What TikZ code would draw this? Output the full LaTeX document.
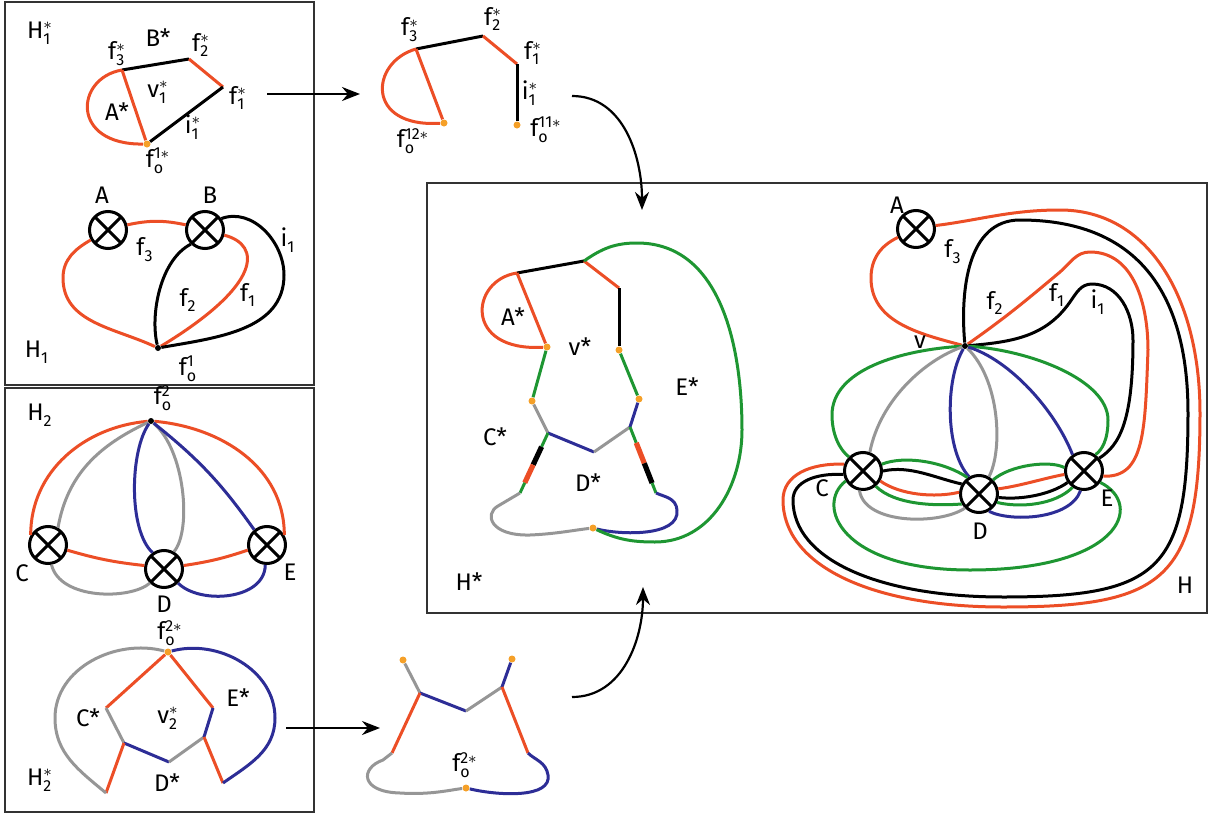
\documentclass[tikz,border=0pt]{standalone}
\usepackage{fontspec}
\setmainfont{Fira Sans}
\usetikzlibrary{arrows.meta, calc}
\definecolor{edgered}{RGB}{236,78,38}
\definecolor{edgeblue}{RGB}{45,45,150}
\definecolor{edgegreen}{RGB}{30,150,50}
\definecolor{edgegray}{RGB}{150,150,150}
\definecolor{dotorange}{RGB}{245,160,40}
\newcommand{\lb}[3]{$\mathrm{#1}^{\mathrm{#3}}_{\mathrm{#2}}$}

\begin{document}
\begin{tikzpicture}[x=0.5pt, y=-0.5pt,
    frame/.style={draw=black!80, line width=0.7pt},
    edge/.style={line width=1.5pt, line join=round},
    redline/.style={edge, draw=edgered},
    blueline/.style={edge, draw=edgeblue},
    greenline/.style={edge, draw=edgegreen},
    grayline/.style={edge, draw=edgegray},
    blackline/.style={edge, draw=black},
    thickseg/.style={line width=2.6pt},
    xnode/.style={circle, draw, line width=1.5pt, minimum size=18.5pt, inner sep=0pt, fill=white,
        path picture={\draw[line width=1.5pt] (path picture bounding box.north west) -- (path picture bounding box.south east)
            (path picture bounding box.north east) -- (path picture bounding box.south west);}},
    vdot/.style={circle, fill=black, inner sep=0pt, minimum size=3pt},
    odot/.style={circle, fill=dotorange, inner sep=0pt, minimum size=3.5pt},
    lbl/.style={inner sep=0pt, font=\fontsize{12}{14}\selectfont},
    arr/.style={-{Stealth[length=9pt, width=7pt]}, line width=1.1pt}
]
\useasboundingbox (0,0) rectangle (1212,814);

% frames
\draw[frame] (5,2) rectangle (314,385);
\draw[frame] (5,388) rectangle (314,812);
\draw[frame] (427,183) rectangle (1207,613);

% H1*
\coordinate (a3) at (122,70);
\coordinate (a2) at (189,59);
\coordinate (a1) at (223,87);
\node[odot] (a0) at (147,144) {};
\draw[blackline] (a3) -- (a2);
\draw[redline] (a2) -- (a1);
\draw[blackline] (a1) -- (a0);
\draw[redline] (a3) -- (a0);
\draw[redline] (a3) .. controls (75,78) and (70,145) .. (a0);
\node[lbl] (h1s) at (40,33) {\lb{H}{1}{*}};
\node[lbl] (bs1) at (158,38) {B*};
\node[lbl] (f3s1) at (117,54) {\lb{f}{3}{*}};
\node[lbl] (f2s1) at (201,45) {\lb{f}{2}{*}};
\node[lbl] (f1s1) at (238,98) {\lb{f}{1}{*}};
\node[lbl] (v1s) at (158,92) {\lb{v}{1}{*}};
\node[lbl] (as1) at (117,112) {A*};
\node[lbl] (i1s1) at (193,127) {\lb{i}{1}{*}};
\node[lbl] (fo1s) at (158,161) {\lb{f}{o}{1*}};

% H1
\node[xnode] (A1) at (108,230) {};
\node[xnode] (B1) at (205,230) {};
\node[vdot] (v1) at (158,348) {};
\draw[redline] (A1.210) to[out=210,in=90] (63,278) to[out=270,in=155] (v1);
\draw[redline] (A1.15) to[bend left=12] (B1.165);
\draw[blackline] (B1.225) .. controls (160,260) and (150,315) .. (v1);
\draw[redline] (B1.-15) .. controls (262,245) and (262,285) .. (v1);
\draw[blackline] (B1.35) to[out=20,in=90] (284,275) to[out=270,in=10] (v1);
\node[lbl] (la1) at (102,195) {A};
\node[lbl] (lb1) at (210,195) {B};
\node[lbl] (f3a) at (145,250) {\lb{f}{3}{}};
\node[lbl] (f2a) at (188,300) {\lb{f}{2}{}};
\node[lbl] (f1a) at (248,295) {\lb{f}{1}{}};
\node[lbl] (i1a) at (288,240) {\lb{i}{1}{}};
\node[lbl] (h1) at (37,352) {\lb{H}{1}{}};
\node[lbl] (fo1) at (188,369) {\lb{f}{o}{1}};

% H2
\node[vdot] (t2) at (151,421) {};
\node[xnode] (C2) at (48,545) {};
\node[xnode] (D2) at (164,569) {};
\node[xnode] (E2) at (267,545) {};
\draw[redline] (t2) to[out=185,in=90] (C2.150);
\draw[redline] (t2) to[out=-5,in=90] (E2.30);
\draw[grayline] (t2) to[out=205,in=80] (C2.60);
\draw[blueline] (t2) .. controls (130,450) and (128,530) .. (D2.125);
\draw[grayline] (t2) .. controls (185,450) and (192,530) .. (D2.60);
\draw[blueline] (t2) to[bend left=8] (E2.130);
\draw[redline] (C2.-15) to[bend right=5] (D2.170);
\draw[redline] (D2.10) to[bend right=5] (E2.195);
\draw[grayline] (C2.-80) .. controls (60,600) and (130,600) .. (D2.-135);
\draw[blueline] (D2.-45) .. controls (200,605) and (265,600) .. (E2.-95);
\node[lbl] (h2) at (40,415) {\lb{H}{2}{}};
\node[lbl] (fo2) at (163,398) {\lb{f}{o}{2}};
\node[lbl] (lc2) at (22,573) {C};
\node[lbl] (ld2) at (164,604) {D};
\node[lbl] (le2) at (290,572) {E};

% H2*
\node[odot] (o2) at (168,652) {};
\coordinate (r1) at (213,708);
\coordinate (r2) at (204,737);
\coordinate (b2) at (169,762);
\coordinate (l2) at (124,743);
\coordinate (l1) at (106,708);
\coordinate (ll) at (106,793);
\coordinate (rl) at (223,783);
\draw[redline] (o2) -- (l1);
\draw[redline] (o2) -- (r1);
\draw[grayline] (l1) -- (l2);
\draw[blueline] (l2) -- (b2);
\draw[grayline] (b2) -- (r2);
\draw[blueline] (r2) -- (r1);
\draw[redline] (l2) -- (ll);
\draw[redline] (r2) -- (rl);
\draw[grayline] (o2) to[out=165,in=90] (55,718) to[out=270,in=140] (ll);
\draw[blueline] (o2) to[out=15,in=90] (275,718) to[out=270,in=35] (rl);
\node[lbl] (fo2s) at (170,633) {\lb{f}{o}{2*}};
\node[lbl] (cs2) at (88,718) {C*};
\node[lbl] (v2s) at (168,718) {\lb{v}{2}{*}};
\node[lbl] (es2) at (238,698) {E*};
\node[lbl] (ds2) at (167,783) {D*};
\node[lbl] (h2s) at (40,780) {\lb{H}{2}{*}};

% top middle
\coordinate (q3) at (416,49);
\coordinate (q2) at (483,36);
\coordinate (q1) at (517,64);
\node[odot] (q0) at (517,125) {};
\node[odot] (ql) at (444,123) {};
\draw[blackline] (q3) -- (q2);
\draw[redline] (q2) -- (q1);
\draw[blackline] (q1) -- (q0);
\draw[redline] (q3) -- (ql);
\draw[redline] (q3) .. controls (370,62) and (365,128) .. (ql);
\node[lbl] (f3s2) at (410,30) {\lb{f}{3}{*}};
\node[lbl] (f2s2) at (493,19) {\lb{f}{2}{*}};
\node[lbl] (f1s2) at (533,53) {\lb{f}{1}{*}};
\node[lbl] (i1s2) at (530,93) {\lb{i}{1}{*}};
\node[lbl] (fo12) at (413,141) {\lb{f}{o}{12*}};
\node[lbl] (fo11) at (546,130) {\lb{f}{o}{11*}};

% bottom middle
\node[odot] (tl) at (403,660) {};
\node[odot] (tr) at (512,659) {};
\node[odot] (bm) at (466,788) {};
\coordinate (j1) at (420,693);
\coordinate (mm) at (466,711);
\coordinate (j2) at (502,687);
\coordinate (lb) at (392,753);
\coordinate (rb) at (528,753);
\draw[grayline] (tl) -- (j1);
\draw[blueline] (j1) -- (mm);
\draw[grayline] (mm) -- (j2);
\draw[blueline] (j2) -- (tr);
\draw[redline] (j1) -- (lb);
\draw[redline] (j2) -- (rb);
\draw[grayline] (lb) -- (383,760) .. controls (360,768) and (360,792) .. (400,793) .. controls (430,795) and (450,790) .. (bm);
\draw[blueline] (bm) .. controls (500,796) and (552,798) .. (548,775) .. controls (546,762) and (535,760) .. (rb);
\node[lbl] (fo2m) at (465,765) {\lb{f}{o}{2*}};

% arrows
\coordinate (ar1s) at (267,94);
\coordinate (ar1e) at (360,94);
\coordinate (ar2s) at (572,96);
\coordinate (ar2e) at (642,210);
\coordinate (ar3s) at (286,728);
\coordinate (ar3e) at (380,728);
\coordinate (ar4s) at (572,697);
\coordinate (ar4e) at (643,587);
\draw[arr] (ar1s) -- (ar1e);
\draw[arr] (ar2s) to[out=0,in=90] (ar2e);
\draw[arr] (ar3s) -- (ar3e);
\draw[arr] (ar4s) to[out=0,in=-90] (ar4e);

% H*
\coordinate (k3) at (517,273);
\coordinate (k2) at (584,261);
\coordinate (k1) at (619,288);
\node[odot] (k0) at (619,350) {};
\node[odot] (kl) at (547,347) {};
\node[odot] (cl) at (532,401) {};
\node[odot] (cr) at (639,399) {};
\node[odot] (bs) at (593,528) {};
\coordinate (sj1) at (548,433);
\coordinate (sm) at (594,452);
\coordinate (sj2) at (630,427);
\coordinate (slb) at (520,493);
\coordinate (srb) at (656,493);
\draw[blackline] (k3) -- (k2);
\draw[redline] (k2) -- (k1);
\draw[blackline] (k1) -- (k0);
\draw[redline] (k3) -- (kl);
\draw[redline] (k3) .. controls (470,280) and (463,352) .. (kl);
\draw[greenline] (kl) -- (cl);
\draw[greenline] (k0) -- (cr);
\draw[grayline] (cl) -- (sj1);
\draw[blueline] (sj1) -- (sm);
\draw[grayline] (sm) -- (sj2);
\draw[blueline] (sj2) -- (cr);
\draw[greenline] (sj1) -- ($(sj1)!0.23!(slb)$);
\draw[blackline, thickseg] ($(sj1)!0.23!(slb)$) -- ($(sj1)!0.53!(slb)$);
\draw[redline, thickseg] ($(sj1)!0.53!(slb)$) -- ($(sj1)!0.83!(slb)$);
\draw[greenline] ($(sj1)!0.83!(slb)$) -- (slb);
\draw[greenline] (sj2) -- ($(sj2)!0.24!(srb)$);
\draw[redline, thickseg] ($(sj2)!0.24!(srb)$) -- ($(sj2)!0.55!(srb)$);
\draw[blackline, thickseg] ($(sj2)!0.55!(srb)$) -- ($(sj2)!0.85!(srb)$);
\draw[greenline] ($(sj2)!0.85!(srb)$) -- (srb);
\draw[grayline] (slb) -- (498,506) .. controls (484,514) and (490,536) .. (530,535) .. controls (555,534) and (575,530) .. (bs);
\draw[blueline] (bs) .. controls (620,535) and (680,537) .. (677,510) .. controls (676,498) and (665,497) .. (srb);
\draw[greenline] (k2) to[out=35,in=180] (637,243) to[out=0,in=90] (742,430) to[out=270,in=0] (655,542) to[out=180,in=-25] (bs);
\node[lbl] (asH) at (513,317) {A*};
\node[lbl] (vsH) at (580,347) {v*};
\node[lbl] (esH) at (687,387) {E*};
\node[lbl] (csH) at (495,437) {C*};
\node[lbl] (dsH) at (588,483) {D*};
\node[lbl] (hs) at (469,582) {H*};

% H
\node[xnode] (A) at (916,229) {};
\node[xnode] (C) at (863,471) {};
\node[xnode] (D) at (979,494) {};
\node[xnode] (E) at (1084,471) {};
\node[vdot] (v) at (965,346) {};
\draw[redline] (A.205) to[out=205,in=90] (871,278) to[out=270,in=165] (v);
\draw[redline] (A.10) .. controls (980,220) and (1010,210) .. (1060,210) .. controls (1150,210) and (1200,300) .. (1200,413)
    .. controls (1200,580) and (1165,607) .. (1003,607) .. controls (870,607) and (783,565) .. (783,500)
    .. controls (783,475) and (810,463) .. (C.160);
\draw[blackline] (v) to[out=95,in=180] (1020,220) .. controls (1135,220) and (1188,290) .. (1188,413)
    .. controls (1188,570) and (1160,597) .. (1003,597) .. controls (880,597) and (793,560) .. (793,500)
    .. controls (793,482) and (815,473) .. (C.190);
\draw[redline] (v) to[out=35,in=220] (1060,272) to[out=40,in=180] (1090,252) to[out=0,in=90] (1148,350)
    .. controls (1145,430) and (1145,478) .. (E.-15);
\draw[blackline] (v) to[out=5,in=235] (1070,302) to[out=55,in=180] (1092,284) to[out=0,in=90] (1133,340)
    .. controls (1133,420) and (1120,445) .. (E.40);
\draw[greenline] (v) .. controls (900,350) and (832,370) .. (832,415) .. controls (832,435) and (840,450) .. (C.135);
\draw[greenline] (v) .. controls (1030,350) and (1108,380) .. (1108,420) .. controls (1108,440) and (1102,450) .. (E.55);
\draw[grayline] (v) .. controls (925,360) and (880,400) .. (C.70);
\draw[blueline] (v) .. controls (945,380) and (945,450) .. (D.120);
\draw[grayline] (v) .. controls (1000,380) and (1003,450) .. (D.60);
\draw[blueline] (v) .. controls (1010,360) and (1055,410) .. (E.125);
\draw[greenline] (C.20) .. controls (905,455) and (945,462) .. (D.125);
\draw[blackline] (C.0) .. controls (910,465) and (935,478) .. (D.150);
\draw[redline] (C.-30) .. controls (900,495) and (935,498) .. (D.175);
\draw[greenline] (C.-50) .. controls (895,505) and (935,506) .. (D.210);
\draw[grayline] (C.-100) .. controls (865,525) and (940,525) .. (D.225);
\draw[greenline] (D.45) .. controls (1010,465) and (1050,460) .. (E.170);
\draw[redline] (D.15) .. controls (1020,486) and (1045,478) .. (E.190);
\draw[blackline] (D.-10) .. controls (1020,500) and (1050,495) .. (E.215);
\draw[greenline] (D.-25) .. controls (1020,508) and (1055,505) .. (E.235);
\draw[blueline] (D.-60) .. controls (1010,522) and (1070,520) .. (E.260);
\draw[greenline] (C.210) .. controls (815,505) and (840,570) .. (970,570) .. controls (1120,570) and (1145,505) .. (E.-35);
\node[lbl] (lA) at (897,205) {A};
\node[lbl] (lv) at (920,342) {v};
\node[lbl] (lC) at (822,488) {C};
\node[lbl] (lD) at (980,531) {D};
\node[lbl] (lE) at (1107,498) {E};
\node[lbl] (f3H) at (953,252) {\lb{f}{3}{}};
\node[lbl] (f2H) at (995,303) {\lb{f}{2}{}};
\node[lbl] (f1H) at (1057,295) {\lb{f}{1}{}};
\node[lbl] (i1H) at (1098,302) {\lb{i}{1}{}};
\node[lbl] (lH) at (1185,585) {H};
\end{tikzpicture}
\end{document}
